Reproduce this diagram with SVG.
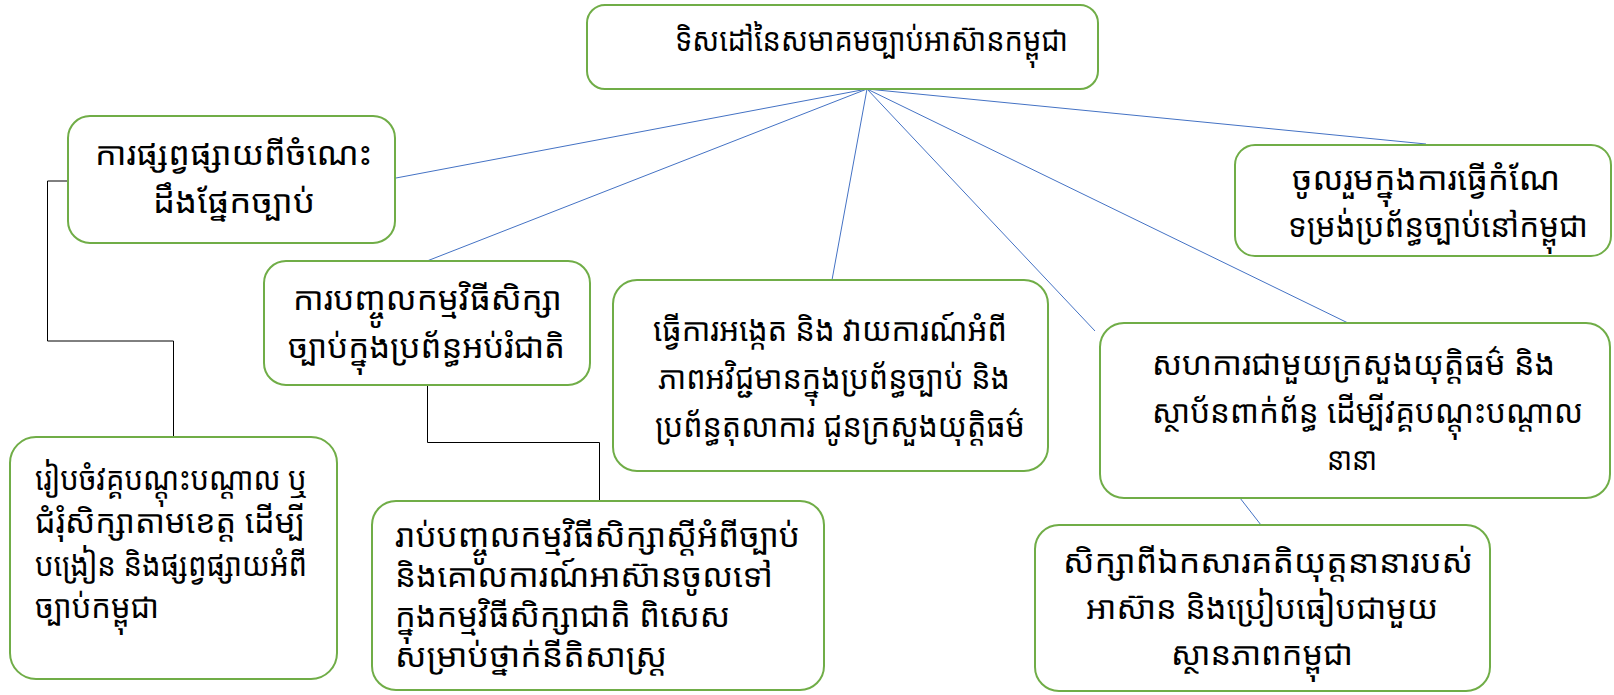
<svg xmlns="http://www.w3.org/2000/svg" width="1614" height="695" viewBox="0 0 1614 695">
<style>
.box{fill:#ffffff;stroke:#70AD47;stroke-width:2}
.t{font-family:"Khmer UI","Noto Sans Khmer","Noto Serif Khmer","Khmer OS","Noto Sans",sans-serif;font-size:32px;fill:#000000}
.c{text-anchor:middle}
.blue{stroke:#4472C4;stroke-width:1;fill:none}
.blk{stroke:#000000;stroke-width:1;fill:none}
</style>
<rect width="1614" height="695" fill="#ffffff"/>
<g id="connectors">
<line class="blue" x1="867" y1="89" x2="396" y2="178"/>
<line class="blue" x1="867" y1="89" x2="427" y2="261"/>
<line class="blue" x1="867" y1="89" x2="832" y2="280"/>
<line class="blue" x1="867" y1="89" x2="1095" y2="331"/>
<line class="blue" x1="867" y1="89" x2="1348" y2="323"/>
<line class="blue" x1="867" y1="89" x2="1426" y2="144"/>
<line class="blue" x1="1240" y1="498" x2="1261" y2="525"/>
<polyline class="blk" points="69,181 47.5,181 47.5,341 173.5,341 173.5,437"/>
<polyline class="blk" points="427.5,385 427.5,442.5 599.5,442.5 599.5,501"/>
</g>
<g id="title">
<rect class="box" x="587" y="5" width="511" height="84" rx="18"/>
<text class="t" x="675" y="51" font-size="35" textLength="393" lengthAdjust="spacingAndGlyphs">ទិសដៅនៃសមាគមច្បាប់អាស៊ានកម្ពុជា</text>
</g>
<g id="n1">
<rect class="box" x="68" y="116" width="327" height="127" rx="22"/>
<text class="t c" x="233.5" y="165" font-size="33" textLength="277" lengthAdjust="spacingAndGlyphs">ការផ្សព្វផ្សាយពីចំណេះ</text>
<text class="t c" x="234" y="213" font-size="33" textLength="162" lengthAdjust="spacingAndGlyphs">ដឹងផ្នែកច្បាប់</text>
</g>
<g id="n2">
<rect class="box" x="264" y="261" width="326" height="124" rx="22"/>
<text class="t c" x="427.5" y="310" textLength="269" lengthAdjust="spacingAndGlyphs">ការបញ្ចូលកម្មវិធីសិក្សា</text>
<text class="t c" x="426.5" y="358" textLength="277" lengthAdjust="spacingAndGlyphs">ច្បាប់ក្នុងប្រព័ន្ធអប់រំជាតិ</text>
</g>
<g id="n3">
<rect class="box" x="613" y="280" width="435" height="191" rx="24"/>
<text class="t c" x="830" y="341" font-size="31" textLength="354" lengthAdjust="spacingAndGlyphs">ធ្វើការអង្កេត និង វាយការណ៍អំពី</text>
<text class="t c" x="834" y="389" font-size="31" textLength="352" lengthAdjust="spacingAndGlyphs">ភាពអវិជ្ជមានក្នុងប្រព័ន្ធច្បាប់ និង</text>
<text class="t c" x="840" y="437" font-size="31" textLength="370" lengthAdjust="spacingAndGlyphs">ប្រព័ន្ធតុលាការ ជូនក្រសួងយុត្តិធម៌</text>
</g>
<g id="n4">
<rect class="box" x="1100" y="323" width="510" height="175" rx="24"/>
<text class="t c" x="1353.5" y="375" font-size="33" textLength="403" lengthAdjust="spacingAndGlyphs">សហការជាមួយក្រសួងយុត្តិធម៌ និង</text>
<text class="t c" x="1367.5" y="423" font-size="33" textLength="431" lengthAdjust="spacingAndGlyphs">ស្ថាប័នពាក់ព័ន្ធ ដើម្បីវគ្គបណ្តុះបណ្តាល</text>
<text class="t c" x="1352" y="470" font-size="33" textLength="50" lengthAdjust="spacingAndGlyphs">នានា</text>
</g>
<g id="n5">
<rect class="box" x="1235" y="145" width="376" height="111" rx="20"/>
<text class="t c" x="1426" y="190" font-size="31" textLength="268" lengthAdjust="spacingAndGlyphs">ចូលរួមក្នុងការធ្វើកំណែ</text>
<text class="t c" x="1438" y="237" font-size="31" textLength="300" lengthAdjust="spacingAndGlyphs">ទម្រង់ប្រព័ន្ធច្បាប់នៅកម្ពុជា</text>
</g>
<g id="n6">
<rect class="box" x="10" y="437" width="327" height="242" rx="26"/>
<text class="t" x="35" y="490" font-size="31" textLength="273" lengthAdjust="spacingAndGlyphs">រៀបចំវគ្គបណ្តុះបណ្តាល ឬ</text>
<text class="t" x="35" y="533" font-size="31" textLength="270" lengthAdjust="spacingAndGlyphs">ជំរុំសិក្សាតាមខេត្ត ដើម្បី</text>
<text class="t" x="35" y="576" font-size="31" textLength="272" lengthAdjust="spacingAndGlyphs">បង្រៀន និងផ្សព្វផ្សាយអំពី</text>
<text class="t" x="35" y="618" font-size="31" textLength="124" lengthAdjust="spacingAndGlyphs">ច្បាប់កម្ពុជា</text>
</g>
<g id="n7">
<rect class="box" x="372" y="501" width="452" height="189" rx="24"/>
<text class="t" x="395" y="547" font-size="33" textLength="405" lengthAdjust="spacingAndGlyphs">រាប់បញ្ចូលកម្មវិធីសិក្សាស្តីអំពីច្បាប់</text>
<text class="t" x="395" y="587" font-size="33" textLength="378" lengthAdjust="spacingAndGlyphs">និងគោលការណ៍អាស៊ានចូលទៅ</text>
<text class="t" x="395" y="627" font-size="33" textLength="335" lengthAdjust="spacingAndGlyphs">ក្នុងកម្មវិធីសិក្សាជាតិ ពិសេស</text>
<text class="t" x="395" y="667" font-size="33" textLength="272" lengthAdjust="spacingAndGlyphs">សម្រាប់ថ្នាក់នីតិសាស្ត្រ</text>
</g>
<g id="n8">
<rect class="box" x="1035" y="525" width="455" height="166" rx="24"/>
<text class="t c" x="1268" y="573" font-size="35" textLength="410" lengthAdjust="spacingAndGlyphs">សិក្សាពីឯកសារគតិយុត្តនានារបស់</text>
<text class="t c" x="1262" y="619" font-size="35" textLength="352" lengthAdjust="spacingAndGlyphs">អាស៊ាន និងប្រៀបធៀបជាមួយ</text>
<text class="t c" x="1262" y="665" font-size="35" textLength="182" lengthAdjust="spacingAndGlyphs">ស្ថានភាពកម្ពុជា</text>
</g>
</svg>
